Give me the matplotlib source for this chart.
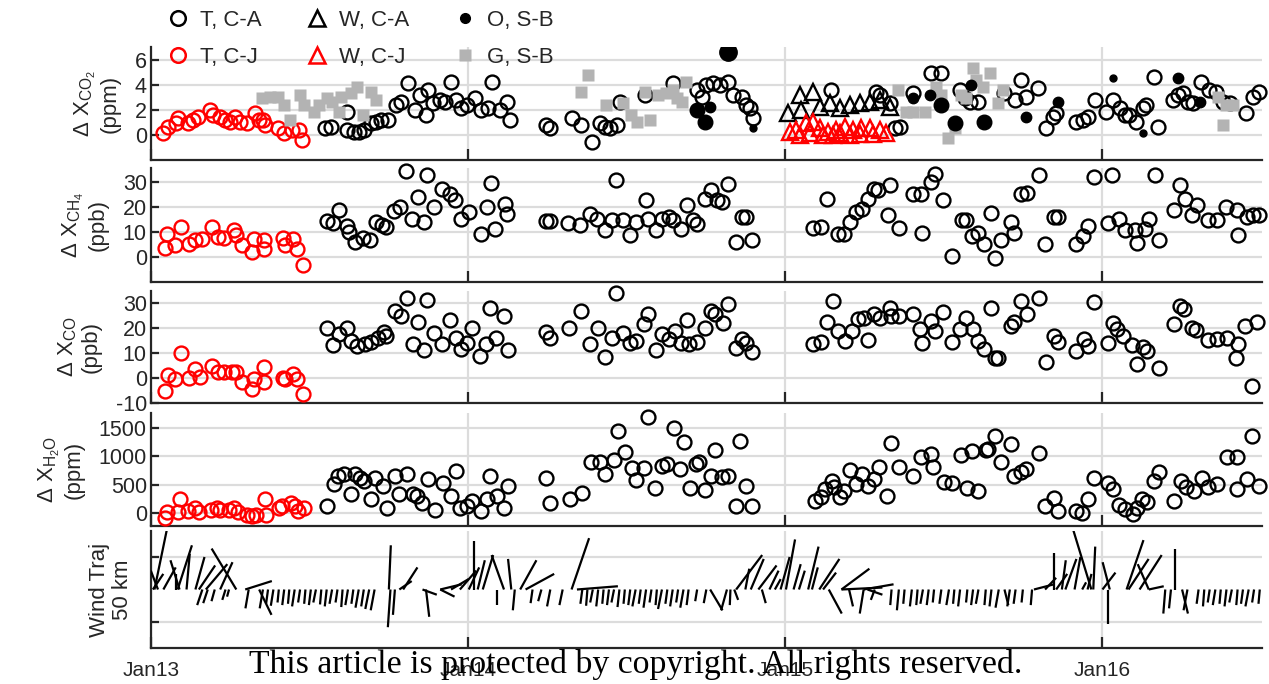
import matplotlib
matplotlib.use('Agg')
import matplotlib.pyplot as plt
from matplotlib.lines import Line2D
from matplotlib.collections import LineCollection

plt.rcParams['font.family'] = ['Liberation Sans', 'DejaVu Sans']
plt.rcParams['mathtext.fontset'] = 'custom'
plt.rcParams['mathtext.rm'] = 'Liberation Sans'
plt.rcParams['mathtext.it'] = 'Liberation Sans:italic'
plt.rcParams['mathtext.bf'] = 'Liberation Sans:bold'
plt.rcParams['axes.unicode_minus'] = False

# ---- data: (years since Jan 2013, value) ----
year_labels = ['Jan13', 'Jan14', 'Jan15', 'Jan16']
year_ticks = [2013, 2014, 2015, 2016]

co2_tcj = [(0.037, 0.13), (0.053, 0.67), (0.079, 0.93), (0.085, 1.33), (0.116, 0.93), (0.132, 1.2),
           (0.148, 1.47), (0.185, 2.0), (0.196, 1.6), (0.217, 1.47), (0.233, 1.2), (0.249, 1.07),
           (0.265, 1.47), (0.280, 1.07), (0.302, 0.93), (0.328, 1.73), (0.339, 1.2), (0.354, 1.2),
           (0.360, 0.8), (0.402, 0.53), (0.418, 0.13), (0.444, 0.4), (0.466, 0.4), (0.476, -0.4)]
co2_tca = [(0.550, 0.53), (0.566, 0.67), (0.619, 1.87), (0.619, 0.4), (0.640, 0.27), (0.656, 0.27),
           (0.672, 0.4), (0.693, 0.93), (0.709, 1.07), (0.725, 1.2), (0.746, 1.2), (0.772, 2.4),
           (0.788, 2.67), (0.810, 4.13), (0.831, 2.0), (0.847, 3.2), (0.868, 1.6), (0.873, 3.6),
           (0.889, 2.53), (0.910, 2.8), (0.926, 2.67), (0.947, 4.27), (0.963, 2.8), (0.979, 2.13),
           (0.995, 2.4), (1.021, 2.93), (1.042, 2.0), (1.063, 2.13), (1.074, 4.27), (1.101, 2.0),
           (1.122, 2.67), (1.132, 1.2), (1.247, 0.8), (1.258, 0.53), (1.326, 1.33), (1.357, 0.8),
           (1.389, -0.53), (1.415, 0.93), (1.431, 0.67), (1.447, 0.53), (1.468, 0.8), (1.478, 2.67),
           (1.557, 3.2), (1.646, 4.13), (1.720, 3.6), (1.736, 3.07), (1.751, 4.0), (1.772, 4.13),
           (1.793, 4.0), (1.820, 4.27), (1.835, 3.2), (1.862, 3.07), (1.877, 2.4), (1.888, 2.13),
           (1.898, 1.33), (2.145, 3.6), (2.287, 3.47), (2.298, 3.2), (2.329, 2.53), (2.345, 0.53),
           (2.361, 0.67), (2.403, 3.33), (2.460, 4.93), (2.492, 4.93), (2.550, 3.6), (2.565, 2.93),
           (2.581, 2.67), (2.607, 2.67), (2.691, 3.33), (2.723, 2.8), (2.744, 4.4), (2.760, 3.07),
           (2.797, 3.73), (2.823, 0.53), (2.844, 1.47), (2.854, 1.73), (2.917, 1.07), (2.938, 1.2),
           (2.954, 1.47), (2.975, 2.8), (3.012, 1.87), (3.033, 2.8), (3.054, 2.13), (3.070, 1.6),
           (3.085, 1.6), (3.106, 1.07), (3.127, 2.13), (3.138, 2.4), (3.164, 4.67), (3.175, 0.67),
           (3.222, 2.8), (3.238, 3.2), (3.254, 3.33), (3.269, 2.67), (3.285, 2.53), (3.311, 4.27),
           (3.337, 3.6), (3.359, 3.47), (3.380, 2.67), (3.401, 2.53), (3.453, 1.73), (3.474, 3.07),
           (3.495, 3.47)]
co2_wca = [(2.009, 1.73), (2.045, 3.2), (2.051, 2.0), (2.087, 3.47), (2.108, 2.27), (2.140, 2.53),
           (2.172, 2.13), (2.203, 2.4), (2.235, 2.53), (2.266, 2.67), (2.298, 2.8), (2.329, 2.27)]
co2_wcj = [(2.014, 0.27), (2.035, 0.4), (2.045, 0.0), (2.066, 0.93), (2.077, 0.13), (2.087, 1.07),
           (2.108, 0.53), (2.119, 0.0), (2.135, 0.27), (2.151, 0.0), (2.161, 0.4), (2.172, 0.13),
           (2.187, 0.67), (2.203, 0.0), (2.214, 0.4), (2.235, 0.08), (2.240, 0.53), (2.266, 0.53),
           (2.277, 0.05), (2.298, 0.4), (2.319, 0.13)]
# O, S-B: (time, value, sample class 1..4 -> symbol size)
co2_osb = [(1.720, 2.0, 3), (1.746, 1.07, 3), (1.762, 2.27, 2), (1.820, 6.67, 4), (1.898, 0.53, 1),
           (2.403, 2.93, 2), (2.455, 3.2, 2), (2.492, 2.4, 3), (2.534, 0.93, 3), (2.586, 4.0, 2),
           (2.628, 1.07, 3), (2.760, 1.47, 2), (2.860, 2.67, 2), (3.033, 4.53, 1), (3.127, 0.13, 1),
           (3.238, 4.53, 2), (3.306, 2.67, 2)]
co2_gsb = [(0.349, 2.93), (0.376, 3.07), (0.402, 3.07), (0.418, 2.4), (0.439, 1.2), (0.471, 3.2),
           (0.481, 2.4), (0.513, 1.87), (0.529, 2.4), (0.556, 2.93), (0.571, 2.67), (0.593, 1.87),
           (0.598, 3.07), (0.630, 3.33), (0.651, 3.87), (0.667, 1.6), (0.693, 3.47), (0.709, 2.8),
           (1.357, 3.47), (1.378, 4.8), (1.436, 2.4), (1.489, 2.53), (1.515, 1.6), (1.531, 1.07),
           (1.557, 3.47), (1.573, 1.2), (1.599, 3.2), (1.625, 3.33), (1.646, 3.6), (1.657, 2.93),
           (1.673, 2.67), (1.688, 4.27), (2.355, 3.6), (2.382, 1.87), (2.403, 1.87), (2.439, 1.87),
           (2.476, 3.87), (2.492, 3.2), (2.513, -0.27), (2.534, 0.53), (2.555, 3.2), (2.571, 2.93),
           (2.592, 5.33), (2.602, 4.4), (2.623, 3.87), (2.644, 4.93), (2.670, 2.53), (2.686, 3.6),
           (3.364, 3.07), (3.380, 0.8), (3.390, 2.4), (3.411, 2.4)]

ch4_tcj = [(0.045, 3.7), (0.051, 9.3), (0.077, 4.7), (0.096, 12.0), (0.121, 5.3), (0.140, 6.7),
           (0.160, 7.3), (0.191, 12.0), (0.211, 8.0), (0.230, 7.7), (0.262, 10.7), (0.268, 8.7),
           (0.287, 4.7), (0.319, 2.0), (0.325, 7.3), (0.357, 6.7), (0.357, 3.3), (0.415, 7.7),
           (0.421, 4.7), (0.447, 7.3), (0.459, 3.3), (0.478, -3.3)]
ch4_tca = [(0.555, 14.4), (0.574, 13.6), (0.593, 18.9), (0.619, 12.3), (0.625, 10.0), (0.644, 6.0),
           (0.670, 7.7), (0.689, 6.9), (0.708, 14.0), (0.727, 12.7), (0.740, 12.0), (0.766, 18.3),
           (0.785, 20.0), (0.804, 34.4), (0.823, 15.3), (0.842, 24.0), (0.861, 14.0), (0.871, 32.7),
           (0.893, 20.0), (0.919, 27.3), (0.944, 25.3), (0.957, 22.7), (0.976, 15.3), (1.002, 18.0),
           (1.040, 9.3), (1.059, 20.0), (1.072, 29.7), (1.085, 11.3), (1.116, 21.3), (1.123, 17.3),
           (1.244, 14.4), (1.257, 14.4), (1.314, 13.6), (1.353, 12.7), (1.384, 17.3), (1.407, 15.3),
           (1.433, 10.7), (1.455, 14.7), (1.467, 30.9), (1.487, 14.7), (1.510, 8.7), (1.529, 14.0),
           (1.561, 22.7), (1.567, 15.3), (1.593, 10.7), (1.612, 15.3), (1.632, 16.0), (1.645, 14.7),
           (1.670, 11.3), (1.690, 20.7), (1.709, 14.7), (1.722, 13.3), (1.747, 23.3), (1.767, 26.7),
           (1.786, 22.7), (1.799, 22.0), (1.818, 29.3), (1.846, 6.0), (1.863, 16.0), (1.876, 16.0),
           (1.895, 6.9), (2.088, 11.7), (2.113, 12.0), (2.130, 23.3), (2.165, 9.3), (2.184, 9.3),
           (2.203, 14.0), (2.223, 18.0), (2.242, 19.3), (2.261, 23.3), (2.281, 27.3), (2.293, 26.9),
           (2.325, 16.7), (2.329, 28.7), (2.358, 11.7), (2.403, 25.3), (2.428, 25.3), (2.432, 9.6),
           (2.460, 30.0), (2.473, 33.3), (2.496, 22.9), (2.525, 0.3), (2.557, 14.9), (2.570, 14.7),
           (2.589, 8.3), (2.608, 9.6), (2.627, 5.3), (2.647, 17.6), (2.660, -0.3), (2.679, 6.7),
           (2.711, 14.0), (2.720, 9.6), (2.743, 25.3), (2.762, 25.6), (2.801, 32.7), (2.820, 5.3),
           (2.846, 16.0), (2.859, 16.0), (2.917, 5.3), (2.938, 8.3), (2.955, 12.3), (2.974, 32.0),
           (3.019, 13.6), (3.029, 32.7), (3.051, 15.3), (3.071, 10.9), (3.103, 10.7), (3.109, 5.6),
           (3.135, 11.3), (3.148, 15.3), (3.167, 32.7), (3.177, 6.9), (3.225, 18.9), (3.244, 28.7),
           (3.260, 23.3), (3.283, 16.7), (3.298, 20.7), (3.334, 14.9), (3.360, 14.9), (3.388, 20.0),
           (3.424, 18.7), (3.427, 8.7), (3.456, 16.0), (3.475, 16.7), (3.495, 16.7)]

co_tcj = [(0.045, -5.1), (0.055, 1.2), (0.077, -0.4), (0.096, 10.0), (0.121, -0.1), (0.140, 3.6),
          (0.153, 0.3), (0.191, 4.9), (0.211, 2.5), (0.230, 2.3), (0.255, 2.5), (0.268, 2.5),
          (0.287, -1.7), (0.319, -4.4), (0.325, -0.4), (0.357, 4.3), (0.357, -1.7), (0.415, 0.0),
          (0.421, -0.4), (0.447, 1.6), (0.459, -0.4), (0.478, -6.4)]
co_tca = [(0.555, 20.0), (0.574, 13.2), (0.593, 17.6), (0.619, 20.3), (0.632, 14.9), (0.651, 12.9),
          (0.676, 13.6), (0.695, 14.5), (0.715, 16.3), (0.734, 18.5), (0.740, 16.9), (0.769, 26.9),
          (0.789, 24.9), (0.808, 32.3), (0.826, 13.6), (0.842, 22.5), (0.861, 11.2), (0.871, 31.3),
          (0.893, 18.0), (0.919, 13.6), (0.944, 23.3), (0.963, 16.3), (0.976, 11.6), (0.995, 14.3),
          (1.012, 20.3), (1.037, 8.9), (1.057, 13.6), (1.069, 28.0), (1.088, 16.3), (1.114, 24.9),
          (1.125, 11.2), (1.244, 18.5), (1.257, 16.3), (1.318, 20.0), (1.356, 26.9), (1.384, 13.6),
          (1.410, 20.0), (1.433, 8.3), (1.455, 16.3), (1.467, 34.3), (1.487, 18.3), (1.510, 14.3),
          (1.529, 14.9), (1.554, 21.6), (1.567, 25.6), (1.593, 11.2), (1.612, 17.6), (1.632, 15.6),
          (1.651, 18.9), (1.670, 14.3), (1.690, 23.3), (1.696, 13.9), (1.722, 14.5), (1.747, 20.3),
          (1.767, 26.9), (1.779, 25.6), (1.802, 22.0), (1.818, 29.6), (1.846, 11.9), (1.863, 15.6),
          (1.876, 14.3), (1.895, 10.5), (2.088, 13.6), (2.113, 14.5), (2.133, 22.5), (2.149, 30.9),
          (2.165, 18.9), (2.188, 14.9), (2.210, 18.9), (2.229, 23.6), (2.248, 24.3), (2.261, 15.3),
          (2.281, 25.6), (2.300, 24.3), (2.329, 28.3), (2.332, 24.9), (2.358, 24.9), (2.403, 25.6),
          (2.424, 19.6), (2.432, 14.0), (2.458, 22.9), (2.471, 18.9), (2.496, 26.5), (2.525, 14.5),
          (2.550, 19.9), (2.570, 24.3), (2.591, 19.6), (2.608, 14.9), (2.627, 11.6), (2.647, 28.3),
          (2.660, 7.9), (2.672, 7.9), (2.711, 20.9), (2.720, 22.5), (2.743, 30.9), (2.762, 25.6),
          (2.801, 32.3), (2.823, 6.5), (2.846, 16.9), (2.859, 14.5), (2.917, 10.9), (2.942, 15.6),
          (2.955, 12.9), (2.974, 30.5), (3.019, 14.0), (3.032, 22.0), (3.045, 19.6), (3.064, 16.9),
          (3.093, 13.2), (3.109, 5.6), (3.128, 12.3), (3.141, 10.9), (3.177, 3.9), (3.225, 21.6),
          (3.244, 28.9), (3.257, 27.6), (3.283, 20.3), (3.295, 19.3), (3.334, 15.3), (3.360, 15.9),
          (3.392, 16.3), (3.421, 7.9), (3.427, 13.6), (3.450, 20.9), (3.473, -3.3), (3.488, 22.5)]

h2o_tcj = [(0.045, -89), (0.050, 12), (0.084, 12), (0.090, 238), (0.118, 30), (0.140, 89),
           (0.151, 12), (0.190, 60), (0.207, 89), (0.218, 48), (0.246, 60), (0.263, 89),
           (0.274, 12), (0.302, -30), (0.319, -60), (0.330, -30), (0.358, 238), (0.364, -30),
           (0.403, 89), (0.414, 119), (0.442, 179), (0.453, 119), (0.464, 30), (0.481, 89)]
h2o_tca = [(0.554, 119), (0.576, 506), (0.590, 655), (0.610, 684), (0.632, 327), (0.643, 684),
           (0.660, 625), (0.671, 565), (0.694, 238), (0.705, 625), (0.733, 476), (0.744, 89),
           (0.769, 655), (0.783, 327), (0.806, 684), (0.825, 327), (0.839, 298), (0.856, 179),
           (0.873, 595), (0.895, 48), (0.921, 524), (0.946, 298), (0.962, 744), (0.974, 89),
           (0.996, 119), (1.013, 208), (1.041, 30), (1.058, 238), (1.069, 655), (1.091, 298),
           (1.113, 89), (1.125, 476), (1.246, 625), (1.259, 167), (1.321, 250), (1.360, 345),
           (1.388, 893), (1.416, 893), (1.432, 684), (1.460, 940), (1.472, 1458), (1.494, 1071),
           (1.516, 803), (1.528, 583), (1.556, 803), (1.567, 1700), (1.589, 446), (1.611, 833),
           (1.628, 863), (1.648, 1500), (1.667, 774), (1.682, 1250), (1.701, 446), (1.718, 863),
           (1.728, 898), (1.747, 405), (1.767, 660), (1.779, 1107), (1.799, 631), (1.818, 660),
           (1.846, 125), (1.857, 1273), (1.876, 482), (1.895, 125), (2.094, 214), (2.113, 274),
           (2.126, 422), (2.146, 571), (2.152, 464), (2.171, 274), (2.184, 393), (2.203, 762),
           (2.223, 512), (2.242, 690), (2.261, 482), (2.281, 601), (2.296, 809), (2.322, 303),
           (2.332, 1238), (2.358, 809), (2.403, 660), (2.428, 988), (2.458, 1035), (2.467, 809),
           (2.499, 541), (2.527, 524), (2.553, 1017), (2.573, 440), (2.589, 1095), (2.608, 381),
           (2.634, 1119), (2.638, 1136), (2.660, 1357), (2.679, 898), (2.711, 1214), (2.720, 660),
           (2.743, 720), (2.758, 780), (2.801, 1059), (2.820, 125), (2.846, 262), (2.861, 36),
           (2.917, 36), (2.936, 6), (2.955, 244), (2.974, 619), (3.019, 524), (3.032, 422),
           (3.051, 143), (3.071, 65), (3.096, -24), (3.109, 83), (3.126, 244), (3.141, 184),
           (3.164, 571), (3.177, 720), (3.225, 214), (3.247, 571), (3.263, 464), (3.289, 393),
           (3.315, 619), (3.334, 452), (3.360, 512), (3.392, 988), (3.424, 988), (3.424, 422),
           (3.456, 601), (3.473, 1357), (3.495, 482)]

# wind trajectory sticks: (years since Jan 2013, east km, north km)
wind = [(0.006, 16, 24), (0.011, 19, 92), (0.022, -11, 29), (0.039, 19, 34), (0.078, 0, 24),
        (0.084, 22, 68), (0.090, -14, 45), (0.112, 5, 55), (0.140, 14, 50), (0.151, 25, 37),
        (0.173, 33, 39), (0.218, 19, 42), (0.269, -38, 63), (0.162, -8, -24), (0.179, -7, -21),
        (0.201, -5, -18), (0.235, -5, -16), (0.246, -3, -11), (0.297, 41, 13), (0.308, -5, -29),
        (0.341, 19, -39), (0.353, -5, -29), (0.369, -3, -22), (0.386, -4, -25), (0.403, -2, -20),
        (0.420, -3, -24), (0.436, -2, -22), (0.453, -4, -26), (0.470, -3, -20), (0.487, -2, -22),
        (0.504, -3, -24), (0.520, -4, -20), (0.537, -2, -23), (0.554, -3, -26), (0.571, -4, -22),
        (0.588, -3, -20), (0.604, -2, -27), (0.621, -4, -24), (0.638, -3, -22), (0.655, -5, -28),
        (0.671, -4, -26), (0.688, -6, -30), (0.705, -6, -32), (0.750, 3, 68), (0.755, -4, -58),
        (0.769, -3, -39), (0.783, 19, 13), (0.795, 22, 34), (0.856, 22, -8), (0.867, 5, -42),
        (0.912, 22, -11), (0.912, 33, 8), (0.946, 27, 16), (0.974, 25, 29), (1.002, 16, 34),
        (1.018, 0, 74), (1.030, 11, 45), (1.046, 16, 53), (1.113, -19, 53), (1.091, 0, -24),
        (1.136, -5, 47), (1.147, -3, -32), (1.164, 25, 45), (1.181, 44, 24), (1.203, -3, -21),
        (1.231, -5, -18), (1.259, -5, -26), (1.326, 27, 79), (1.298, -5, -24), (1.343, 63, 5),
        (1.360, -3, -22), (1.376, -2, -25), (1.393, -4, -20), (1.410, -3, -26), (1.427, -2, -22),
        (1.444, -3, -24), (1.460, -4, -20), (1.477, -3, -27), (1.494, -2, -22), (1.511, -3, -24),
        (1.528, -5, -26), (1.544, -3, -22), (1.561, -4, -28), (1.578, -3, -20), (1.595, -2, -24),
        (1.611, -6, -30), (1.628, -3, -22), (1.645, -4, -26), (1.662, -3, -20), (1.679, -5, -28),
        (1.695, -3, -24), (1.722, -3, -18), (1.751, -4, -21), (1.763, 19, -32), (1.816, -9, -32),
        (1.827, -1, -24), (1.839, 6, -16), (1.845, 40, 53), (1.874, 6, 32), (1.891, 20, 47),
        (1.915, 28, 37), (1.926, 6, -21), (1.950, 14, 29), (1.967, 9, 16), (1.985, 14, 50),
        (2.002, 14, 77), (2.026, 11, 39), (2.043, 9, 29), (2.072, 16, 66), (2.084, 9, 34),
        (2.107, 31, 47), (2.119, 20, 26), (2.137, 20, -37), (2.177, 43, 32), (2.177, 63, 3),
        (2.201, 6, -26), (2.247, -6, -37), (2.247, 46, 8), (2.259, 23, -8), (2.282, -6, -16),
        (2.335, -2, -24), (2.358, -3, -32), (2.376, -2, -22), (2.399, -3, -26), (2.417, -2, -24),
        (2.434, -4, -22), (2.452, -3, -24), (2.469, -2, -20), (2.492, -3, -22), (2.516, -4, -24),
        (2.533, -2, -22), (2.551, -3, -26), (2.574, -2, -20), (2.592, -3, -24), (2.609, -4, -22),
        (2.632, -2, -24), (2.650, -3, -26), (2.673, -5, -28), (2.691, 6, -24), (2.708, -4, -26),
        (2.726, -3, -22), (2.749, -2, -20), (2.778, -2, -24), (2.784, 31, 8), (2.819, 17, 18),
        (2.848, 0, 56), (2.854, 17, 24), (2.872, 6, 45), (2.883, 17, 47), (2.912, 9, 50),
        (2.936, 6, 11), (2.965, -28, 92), (2.971, 3, 66), (2.953, 6, 24), (3.000, 20, 26),
        (3.023, -11, 42), (3.017, 0, -53), (3.076, 26, 76), (3.082, 31, 47), (3.117, 34, 53),
        (3.146, -17, 39), (3.146, 23, 5), (3.230, 0, 63), (3.198, -3, -37), (3.216, -3, -29),
        (3.251, 9, -37), (3.268, -6, -32), (3.303, -3, -22), (3.321, -2, -26), (3.338, -3, -20),
        (3.356, -4, -24), (3.373, -2, -22), (3.391, -3, -26), (3.408, -4, -20), (3.426, -2, -24),
        (3.443, -3, -22), (3.461, -5, -26), (3.478, -3, -20), (3.496, -2, -22)]

# ---- figure ----
W, H = 1269, 684
fig = plt.figure(figsize=(W / 100, H / 100), dpi=100)
ink = '#262626'
left, right = 151, 1262
rows = [(47, 160), (168, 282), (291, 403), (413, 526), (531, 648)]
axes = [fig.add_axes([left / W, 1 - b / H, (right - left) / W, (b - t) / H]) for t, b in rows]


def xs(series):
    return [2013 + p[0] for p in series]


def ys(series):
    return [p[1] for p in series]


def open_pts(ax, series, color, marker='o', ms=10):
    ax.plot(xs(series), ys(series), ls='none', marker=marker, ms=ms, mfc='none',
            mec=color, mew=1.7, clip_on=False, zorder=3)


def style(ax, yticks, ylim, label):
    ax.set_xlim(2013.0, 2016.503)
    ax.set_ylim(*ylim)
    ax.set_yticks(yticks)
    ax.set_xticks(year_ticks)
    ax.grid(True, color='#dcdcdc', lw=1.6)
    ax.set_axisbelow(True)
    for s in ['top', 'right']:
        ax.spines[s].set_visible(False)
    for s in ['left', 'bottom']:
        ax.spines[s].set_color(ink)
        ax.spines[s].set_linewidth(1.6)
    ax.tick_params(direction='in', length=6, width=1.6, colors=ink, labelsize=15.5, pad=3)
    ax.tick_params(axis='x', length=8, labelbottom=False)
    ax.set_ylabel(label, fontsize=16, color=ink, linespacing=1.1, labelpad=10)


ax1, ax2, ax3, ax4, ax5 = axes

# CO2
open_pts(ax1, co2_tcj, 'red')
open_pts(ax1, co2_tca, 'black')
ax1.plot(xs(co2_gsb), ys(co2_gsb), ls='none', marker='s', ms=8.5, mfc='#b3b3b3', mec='none',
         clip_on=False, zorder=4)
osb_size = {1: 5, 2: 7.5, 3: 10.5, 4: 12.5}
for t, v, n in co2_osb:
    ax1.plot(2013 + t, v, ls='none', marker='o', ms=osb_size[n], mfc='black', mec='black', zorder=5)
open_pts(ax1, co2_wca, 'black', marker='^', ms=11)
open_pts(ax1, co2_wcj, 'red', marker='^', ms=11)
style(ax1, [0, 2, 4, 6], (-2, 7.04), 'Δ X$_{\\mathrm{CO_2}}$\n(ppm)')

# CH4
open_pts(ax2, ch4_tcj, 'red')
open_pts(ax2, ch4_tca, 'black')
style(ax2, [0, 10, 20, 30], (-10, 35.6), 'Δ X$_{\\mathrm{CH_4}}$\n(ppb)')

# CO
open_pts(ax3, co_tcj, 'red')
open_pts(ax3, co_tca, 'black')
style(ax3, [-10, 0, 10, 20, 30], (-10, 35), 'Δ X$_{\\mathrm{CO}}$\n(ppb)')

# H2O
open_pts(ax4, h2o_tcj, 'red')
open_pts(ax4, h2o_tca, 'black')
style(ax4, [0, 500, 1000, 1500], (-232, 1768), 'Δ X$_{\\mathrm{H_2O}}$\n(ppm)')

# wind trajectory sticks
style(ax5, [-50, 50], (-90, 90), 'Wind Traj\n50 km')
ax5.set_yticklabels([])
# same km scale horizontally as vertically
yr_per_px = (ax5.get_xlim()[1] - ax5.get_xlim()[0]) / ax5.bbox.width
px_per_km = ax5.bbox.height / (ax5.get_ylim()[1] - ax5.get_ylim()[0])
kx = yr_per_px * px_per_km
segs = [[(2013 + t, 0), (2013 + t + u * kx, v)] for t, u, v in wind]
ax5.add_collection(LineCollection(segs, colors='black', linewidths=1.6, zorder=3))
ax5.set_xticklabels(year_labels)
ax5.tick_params(axis='x', labelbottom=True, labelsize=15, pad=9)

# legend
handles = [
    Line2D([], [], ls='none', marker='o', ms=10.5, mfc='none', mec='black', mew=1.8, label='T, C-A'),
    Line2D([], [], ls='none', marker='o', ms=10.5, mfc='none', mec='red', mew=1.8, label='T, C-J'),
    Line2D([], [], ls='none', marker='^', ms=11.5, mfc='none', mec='black', mew=1.8, label='W, C-A'),
    Line2D([], [], ls='none', marker='^', ms=11.5, mfc='none', mec='red', mew=1.8, label='W, C-J'),
    Line2D([], [], ls='none', marker='o', ms=7, mfc='black', mec='black', label='O, S-B'),
    Line2D([], [], ls='none', marker='s', ms=9, mfc='#b3b3b3', mec='none', label='G, S-B'),
]
leg = fig.legend(handles=handles, ncol=3, loc='upper left', bbox_to_anchor=(167 / W, 1 - 10 / H),
                 frameon=False, fontsize=16, handlelength=1.0, handletextpad=0.49,
                 columnspacing=2.0, labelspacing=0.7, borderpad=0, borderaxespad=0)
for txt in leg.get_texts():
    txt.set_color(ink)

fig.text(636 / W, 1 - 665 / H, 'This article is protected by copyright. All rights reserved.',
         ha='center', va='center', fontsize=24.3, family='Liberation Serif', color='black')

fig.savefig('out.png', dpi=100)
